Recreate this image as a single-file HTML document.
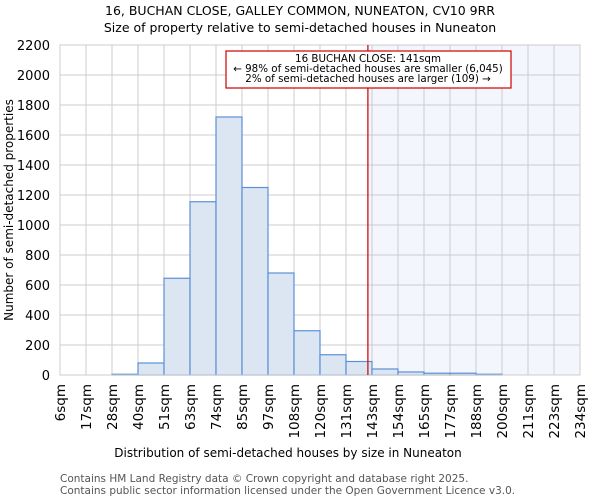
<!DOCTYPE html>
<html><head><meta charset="utf-8"><style>
body{margin:0;background:#fff;font-family:"DejaVu Sans","Liberation Sans",sans-serif}
svg text{font-family:"DejaVu Sans","Liberation Sans",sans-serif}
</style></head><body>
<svg id="chart" width="600" height="500">
<text x="300" y="15" text-anchor="middle" font-size="12.5">16, BUCHAN CLOSE, GALLEY COMMON, NUNEATON, CV10 9RR</text>
<text x="300" y="32" text-anchor="middle" font-size="12.5">Size of property relative to semi-detached houses in Nuneaton</text>
<g id="plot"></g>
<text x="288" y="457" text-anchor="middle" font-size="12">Distribution of semi-detached houses by size in Nuneaton</text>
<text x="13" y="210" text-anchor="middle" font-size="12" transform="rotate(-90 13 210)">Number of semi-detached properties</text>
<text x="60" y="482" font-size="10.5" fill="#555">Contains HM Land Registry data © Crown copyright and database right 2025.</text>
<text x="60" y="494" font-size="10.5" fill="#555">Contains public sector information licensed under the Open Government Licence v3.0.</text>
</svg>
<script>
const binEdges=[6,17,28,40,51,63,74,85,97,108,120,131,143,154,165,177,188,200,211,223,234];
const tickLabels=["6sqm","17sqm","28sqm","40sqm","51sqm","63sqm","74sqm","85sqm","97sqm","108sqm","120sqm","131sqm","143sqm","154sqm","165sqm","177sqm","188sqm","200sqm","211sqm","223sqm","234sqm"];
const counts=[0,0,5,80,645,1155,1720,1250,680,295,135,90,40,20,12,12,5,0,0,0];
const yTicks=[0,200,400,600,800,1000,1200,1400,1600,1800,2000,2200];
const subjectSize=141;
const annotationLines=["16 BUCHAN CLOSE: 141sqm","← 98% of semi-detached houses are smaller (6,045)","2% of semi-detached houses are larger (109) →"];
const L=60,R=580,T=45,B=375,NS="http://www.w3.org/2000/svg";
const xi=i=>L+i*(R-L)/(binEdges.length-1);
const xv=v=>L+(v-binEdges[0])/(binEdges[binEdges.length-1]-binEdges[0])*(R-L);
const y=v=>B-v/2200*(B-T);
const g=document.getElementById('plot');
function mk(t,a){const e=document.createElementNS(NS,t);for(const k in a)e.setAttribute(k,a[k]);g.appendChild(e);return e;}
const sx=xv(subjectSize);
let e=mk('rect',{x:sx,y:T,width:R-sx,height:B-T,fill:'#f3f6fd'});


yTicks.forEach(v=>{let l=mk('line',{x1:L,x2:R,y1:y(v),y2:y(v),stroke:'#ccc'});


let t=mk('text',{x:L-10,y:y(v)+5,'text-anchor':'end','font-size':'13'});t.textContent=v;

});
tickLabels.forEach((s,i)=>{let l=mk('line',{x1:xi(i),x2:xi(i),y1:T,y2:B,stroke:'#ccc'});


let t=mk('text',{x:0,y:0,'text-anchor':'end','font-size':'13.5',transform:`translate(${xi(i)+5},${B+9}) rotate(-90)`});t.textContent=s;

});
counts.forEach((c,i)=>{if(c<=0)return;let r=mk('rect',{x:xi(i),y:y(c),width:xi(i+1)-xi(i),height:B-y(c),fill:'#dce6f2',stroke:'#5b8fd6','stroke-width':'1.2'});

});
e=mk('rect',{x:L,y:T,width:R-L,height:B-T,fill:'none',stroke:'#ccc'});


e=mk('line',{x1:sx,x2:sx,y1:T,y2:B,stroke:'#cc0000','stroke-width':'1.2'});


e=mk('rect',{x:226,y:51,width:285,height:37,fill:'#fff',stroke:'#cc0000','stroke-width':'1.2'});


annotationLines.forEach((s,i)=>{let t=mk('text',{x:368,y:62+i*10,'text-anchor':'middle','font-size':'10.3'});t.textContent=s;

});
</script>
</body></html>
